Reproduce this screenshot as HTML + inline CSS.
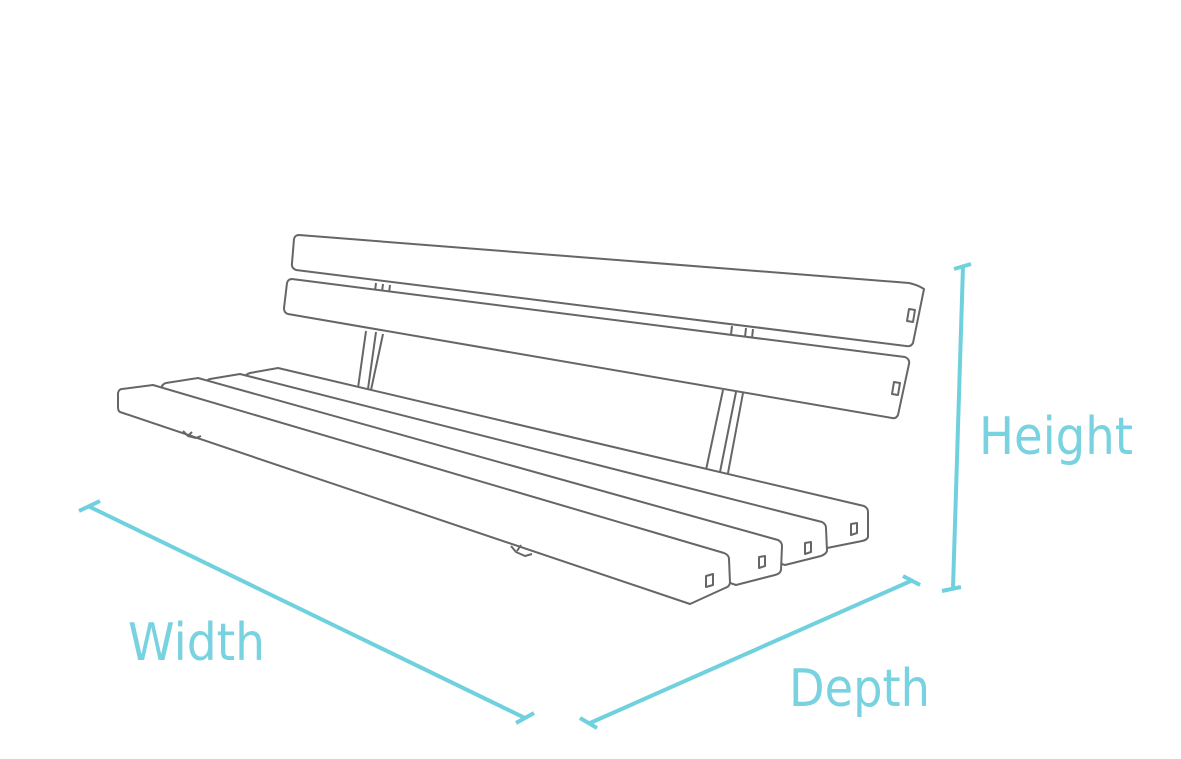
<!DOCTYPE html>
<html><head><meta charset="utf-8"><style>
html,body{margin:0;padding:0;background:#fff;}
svg{display:block;}
</style></head><body>
<svg width="1181" height="759" viewBox="0 0 1181 759" xmlns="http://www.w3.org/2000/svg">
<g fill="none" stroke="#666" stroke-width="2" stroke-linejoin="round">
<path d="M376 283 L375 291 M383 284 L382 292 M390 285 L389 293"/>
<path d="M732 326 L731 335 M746 328 L745 337 M753 329 L752 338"/>
<path d="M366 331 L358 388 M376 332 L368 389 M383 334 L371 390"/>
<path d="M723 390 L706 470 M736 392 L720 472 M743 393 L728 473"/>
<path d="M299 235 L909 283 Q918 285 924 289 L913 343 Q911 347 906 346 L296 270 Q291 268 292 263 L294 239 Q295 235 299 235 Z" fill="#fff"/>
<path d="M909 309 L915 310 L913 322 L907 321 Z"/>
<path d="M292 279 L905 357 Q910 359 909 364 L898 415 Q896 419 892 418 L288 314 Q284 313 284 308 L287 283 Q288 279 292 279 Z" fill="#fff"/>
<path d="M894 382 L900 383 L898 395 L892 394 Z"/>
<path d="M250 373 L278 368 L864 506 Q868 508 868 512 L868 537 Q867 540 862 541 L827 548 L244 378 Q246 374 250 373 Z" fill="#fff"/>
<path d="M851 524 L857 523 L857 533 L851 535 Z"/>
<path d="M210 379 L240 374 L822 522 Q826 524 826 528 L827 551 Q826 554 821 556 L785 565 L205 384 Q206 380 210 379 Z" fill="#fff"/>
<path d="M805 543 L811 542 L811 552 L805 554 Z"/>
<path d="M166 383 L198 378 L778 540 Q782 542 782 546 L781 570 Q780 574 775 575 L736 585 L161 389 Q162 384 166 383 Z" fill="#fff"/>
<path d="M759 557 L765 556 L765 566 L759 568 Z"/>
<path d="M122 389 L153 385 L724 553 Q729 555 729 559 L730 583 Q729 587 725 588 L690 604 L120 412 Q118 411 118 407 L118 393 Q119 389 122 389 Z" fill="#fff"/>
<path d="M706 576 L713 574 L713 585 L706 587 Z"/>
<path d="M183 431 L188 436 L196 438 L201 436 M188 436 L192 432"/>
<path d="M511 546 L516 552 L525 556 L532 554 M517 551 L521 545"/>
</g>
<g stroke="#6fd0de" stroke-width="4" stroke-linecap="butt" fill="none">
<path d="M90 507 L525 718"/>
<path d="M79 511 L100 501"/>
<path d="M516 723 L534 713"/>
<path d="M590 723 L913 580"/>
<path d="M580 718 L597 728"/>
<path d="M903 576 L920 585"/>
<path d="M963 266 L953 588"/>
<path d="M954 269 L971 264"/>
<path d="M942 591 L961 587"/>
</g>
<g fill="#78d2df" font-family="'DejaVu Sans','Liberation Sans',sans-serif" font-size="52">
<text x="979" y="454" textLength="154" lengthAdjust="spacingAndGlyphs">Height</text>
<text x="128" y="660" textLength="137" lengthAdjust="spacingAndGlyphs">Width</text>
<text x="789" y="706" textLength="141" lengthAdjust="spacingAndGlyphs">Depth</text>
</g>
</svg>
</body></html>
